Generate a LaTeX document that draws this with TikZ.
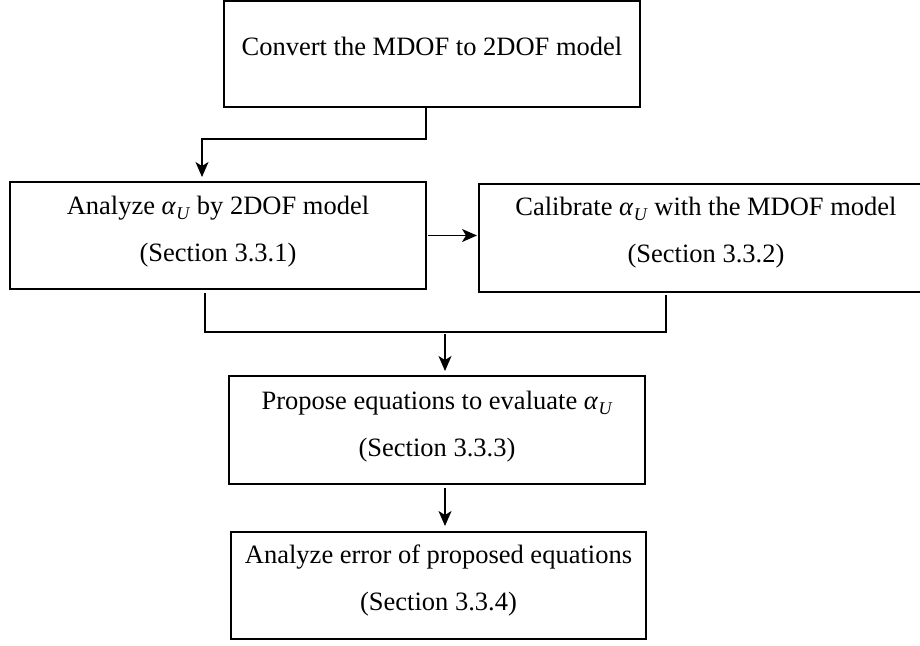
\documentclass[tikz,border=0pt]{standalone}
\usepackage{fontspec}
\setmainfont{Liberation Serif}
\usetikzlibrary{arrows.meta,calc}
\newcommand\myaU{\textit{α}\kern0.3pt\raisebox{-0.22em}{\fontsize{18}{18}\selectfont\textit{U}}}
\begin{document}
\begin{tikzpicture}[x=1pt,y=-1pt,
  boxsty/.style={draw,line width=1.4pt,inner sep=0pt,outer sep=0pt,rectangle},
  txt/.style={anchor=base,inner sep=0pt,font=\fontsize{26.5}{30}\selectfont},
  conn/.style={line width=1.4pt},
  arr/.style={line width=1.4pt,-{Stealth[length=15pt,width=13pt,inset=4pt]}}]
\useasboundingbox (0,0) rectangle (920,645);
\clip (0,0) rectangle (920,645);
% boxes
\node[boxsty,minimum width=416pt,minimum height=106pt] (b1) at (432,54) {};
\node[boxsty,minimum width=416pt,minimum height=107pt] (b2) at (218,235.5) {};
\node[boxsty,minimum width=454pt,minimum height=108pt] (b3) at (706,238) {};
\node[boxsty,minimum width=416pt,minimum height=108pt] (b4) at (437,430) {};
\node[boxsty,minimum width=415pt,minimum height=107pt] (b5) at (438.5,585.5) {};
% texts
\node[txt] (t1) at (432,55) {Convert the MDOF to 2DOF model};
\node[txt] (t2a) at (218,214) {Analyze \myaU{} by 2DOF model};
\node[txt] (t2b) at (218,261) {(Section 3.3.1)};
\node[txt] (t3a) at (706,215) {Calibrate \myaU{} with the MDOF model};
\node[txt] (t3b) at (706,262) {(Section 3.3.2)};
\node[txt] (t4a) at (437,409) {Propose equations to evaluate \myaU};
\node[txt] (t4b) at (437,456) {(Section 3.3.3)};
\node[txt] (t5a) at (438.5,563) {Analyze error of proposed equations};
\node[txt] (t5b) at (438.5,610) {(Section 3.3.4)};
% connectors
\coordinate (j1) at (202,139);
\draw[arr] ($(b1.south)+(-6,0)$) |- (j1) -- ($(b2.north)+(-16,-5)$);
\draw[arr] ($(b2.east)+(2,0)$) -- ($(b3.west)+(-2,-2.5)$);
\coordinate (j2) at (445,332);
\draw[conn] ($(b2.south)+(-13,4)$) |- (j2) -| ($(b3.south)+(-40,3)$);
\draw[arr] ($(j2)+(0,2)$) -- ($(b4.north)+(8,-5)$);
\draw[arr] ($(b4.south)+(8,4)$) -- ($(b5.north)+(6.5,-6)$);
\end{tikzpicture}
\end{document}
